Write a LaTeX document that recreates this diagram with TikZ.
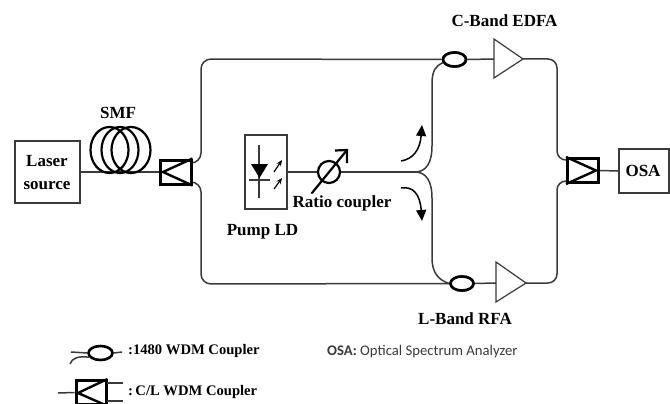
\documentclass[tikz,border=0pt]{standalone}
\usepackage{fontspec}
\setmainfont{Liberation Serif}
\newfontfamily\calibrilike{Carlito}
\usetikzlibrary{arrows.meta,calc,shapes.geometric}
\definecolor{fib}{HTML}{3A3A3A}
\tikzset{
  fiber/.style={draw=fib,line width=1.5pt},
  thin box/.style={draw=fib,line width=1.2pt,fill=white,inner sep=0pt},
  wdm/.style={draw=black,line width=3pt,fill=white,minimum width=31pt,minimum height=24pt,inner sep=0pt},
  wdmc/.style={draw=black,ellipse,line width=2.6pt,fill=white,minimum width=23pt,minimum height=14pt,inner sep=0pt},
  amp/.style={draw=fib,line width=1.2pt,fill=white,line join=miter},
  lab/.style={font=\fontsize{17}{19}\selectfont\bfseries,inner sep=0pt},
  leg/.style={font=\fontsize{14.6}{16}\selectfont\bfseries,inner sep=0pt,anchor=west},
  coil/.style={draw=black,line width=2.2pt},
  flow/.style={draw=black,line width=1.5pt,-{Triangle[length=11pt,width=10pt]}},
}
\begin{document}
\begin{tikzpicture}[x=1pt,y=-1pt]
\useasboundingbox (0,0) rectangle (670,404);
% nodes
\node[thin box,minimum width=65pt,minimum height=62pt,align=center] (laser) at (47.5,172) {};
\node[lab] (lasert) at (47,161) {Laser};
\node[lab] (sourcet) at (47,186) {source};
\node[lab] (smf) at (118,113) {SMF};
\coordinate (coilL) at (91,172);
\coordinate (coilR) at (151,172);
\node[wdm] (w1) at (175.5,172) {};
\node[wdm] (w2) at (583,170.5) {};
\node[thin box,minimum width=50pt,minimum height=44pt] (osa) at (644,171) {};
\node[lab] (osat) at (643,171) {OSA};
\node[thin box,minimum width=42pt,minimum height=74pt] (pump) at (266,172) {};
\node[lab] (pumpt) at (262.5,232) {Pump LD};
\node[lab] (ratiot) at (342,203) {Ratio coupler};
\node[lab] (cband) at (504.5,21) {C-Band EDFA};
\node[lab] (lband) at (465,319) {L-Band RFA};
% fibres
\coordinate (w1a) at (192,163);
\coordinate (w1b) at (192,182);
\coordinate (w2a) at (567,160);
\coordinate (w2b) at (567,181);
\coordinate (split) at (415,172);
\coordinate (ca1) at (201,59);
\coordinate (ca2) at (201,284);
\coordinate (cb1) at (557,59);
\coordinate (cb2) at (557,283);
\coordinate (ratio) at (329,172);
\node[wdmc] (c1) at (454.5,59.5) {};
\node[wdmc] (c2) at (462,283.5) {};
\coordinate (a1) at (494,59);
\coordinate (a1t) at (523,59);
\coordinate (a2) at (496,283);
\coordinate (a2t) at (526,283);
\draw[fiber] (laser.east) -- (w1.west);
\draw[fiber,rounded corners=10pt] (w1a) -- (w1a-|ca1) -- (ca1) -- (c1.west);
\draw[fiber,rounded corners=10pt] (w1b) -- (w1b-|ca2) -- (ca2) -- (c2.west);
\draw[fiber] (pump.east) -- (split);
\draw[fiber] (split) .. controls (426,172) and (432,163) .. (432,146) -- (432,84) .. controls (432,70) and (436,66) .. (c1.195);
\draw[fiber] (split) .. controls (426,172) and (432,181) .. (432,198) -- (432,258) .. controls (432,272) and (438,280) .. (c2.west);
\draw[fiber] (c1.east) -- (a1);
\draw[fiber] (c2.east) -- (a2);
\draw[fiber,rounded corners=9pt] (a1t) -- (cb1) -- (w2a-|cb1) -- (w2a);
\draw[fiber,rounded corners=9pt] (a2t) -- (cb2) -- (w2b-|cb2) -- (w2b);
\draw[fiber] (w2.east) -- (osa.west);
% redraw couplers and boxes
\node[wdmc] at (c1) {};
\node[wdmc] at (c2) {};
\draw[amp] (494,39) -- (a1t) -- (494,78) -- cycle;
\draw[amp] (496,262) -- (a2t) -- (496,302) -- cycle;
\node[wdm] at (w1) {};
\node[wdm] at (w2) {};
\draw[black,line width=2.4pt,line join=miter] (w1.north east) -- (163,172) -- (w1.south east);
\draw[black,line width=2.4pt,line join=miter] (w2.north west) -- (596,170.5) -- (w2.south west);
% coil
\draw[fiber] (coilL) -- (coilR);
\draw[coil] (109.5,150) ellipse [x radius=19,y radius=23];
\draw[coil] (120,150) ellipse [x radius=18.5,y radius=23];
\draw[coil] (131,150) ellipse [x radius=19.5,y radius=23];
% diode
\draw[fib,line width=1.2pt] (259,145) -- (259,198);
\draw[fib,line width=1.2pt] (249,180) -- (270,180);
\fill[black] (251,164) -- (268,164) -- (259.5,178) -- cycle;
\draw[black,line width=1.2pt,-{Stealth[length=6pt,width=5pt]}] (274,172) -- (282,160);
\draw[black,line width=1.2pt,-{Stealth[length=6pt,width=5pt]}] (274,189) -- (282,178);
% ratio coupler
\node[draw=black,line width=2.2pt,circle,minimum size=22pt,inner sep=0pt,fill=white] (rc) at (ratio) {};
\coordinate (rtail) at (312,193);
\coordinate (rtip) at (347,150);
\draw[black,line width=2.2pt,line cap=round] (rtail) -- (rtip);
\draw[black,line width=2.2pt,line join=miter] (335,150.5) -- (rtip) -- (347,163);
% flow arrows
\draw[flow] (401,161) .. controls (413,159) and (420,150) .. (422,125);
\draw[flow] (401,188) .. controls (413,186) and (420,194) .. (422,221);
% legend
\node[wdmc,minimum width=24pt,minimum height=14pt] (lc) at (100.5,353) {};
\coordinate (l1) at (71,352);
\coordinate (l2) at (70,364);
\coordinate (l3) at (122,352);
\draw[fiber] (l1) -- (lc.west);
\draw[fiber] (l2) .. controls (72,358) and (78,356) .. (lc.200);
\draw[fiber] (lc.east) -- (l3);
\node[leg] (lt1) at (128,351) {:1480 WDM Coupler};
\node[wdm,minimum width=30pt,minimum height=24pt] (lw) at (91,392.5) {};
\coordinate (l4) at (58,393);
\coordinate (l5) at (107,383);
\coordinate (l6) at (123,383);
\coordinate (l7) at (107,401);
\coordinate (l8) at (123,401);
\draw[fiber] (l4) -- (lw.west);
\draw[fiber] (l5) -- (l6);
\draw[fiber] (l7) -- (l8);
\draw[black,line width=2.4pt,line join=miter] (lw.north east) -- (78,393) -- (lw.south east);
\node[leg] (lt2) at (128,392) {:\,C/L WDM Coupler};
\node[anchor=west,inner sep=0pt,font=\fontsize{14.7}{16}\selectfont\calibrilike,text=fib] (lt3) at (327,352) {\textbf{OSA:} Optical Spectrum Analyzer};
\end{tikzpicture}
\end{document}
